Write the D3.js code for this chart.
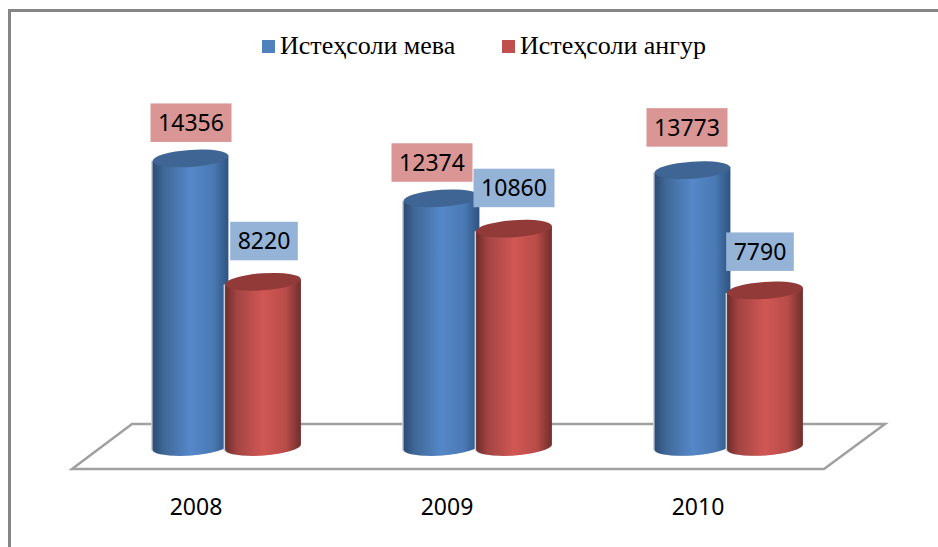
<!DOCTYPE html>
<html>
<head>
<meta charset="utf-8">
<script src="https://cdn.jsdelivr.net/npm/d3@7"></script>
<style>
  html, body { margin: 0; padding: 0; background: #fff; }
  svg { display: block; }
</style>
</head>
<body>
<script>
// Dati
const years = ["2008", "2009", "2010"];
const fruit = [14356, 12374, 13773];
const grape = [8220, 10860, 7790];
const seriesNames = ["Истеҳсоли мева", "Истеҳсоли ангур"];

const width = 938, height = 547;
const svg = d3.select("body").append("svg").attr("width", width).attr("height", height);

// Scale
const x = d3.scaleBand().domain(years).range([101.5, 854.5]);
const inner = d3.scaleBand().domain(d3.range(2)).range([53.5, 197.5]);
const y = d3.scaleLinear().domain([0, 15000]).range([447, 145.5]);

const rx = 38, ry = 8.5, tilt = -4;
const dx = rx * Math.cos(tilt * Math.PI / 180);
const dy = rx * Math.sin(tilt * Math.PI / 180);

// Gradienti dei cilindri
const defs = svg.append("defs");
const gradients = [
  { id: "gradFruit", stops: ["#2b4b73", "#406898", "#5588c9", "#4a79b3", "#2e5380"] },
  { id: "gradGrape", stops: ["#6d2b2a", "#a24442", "#d15754", "#b84c49", "#6f2d2c"] }
];
gradients.forEach(g => {
  const lg = defs.append("linearGradient").attr("id", g.id);
  [0, 0.15, 0.5, 0.8, 1].forEach((o, i) => {
    lg.append("stop").attr("offset", o).attr("stop-color", g.stops[i]);
  });
});

// Cornice
svg.append("rect")
  .attr("x", 9.5).attr("y", 10.5)
  .attr("width", width + 20).attr("height", height + 20)
  .attr("fill", "#fff").attr("stroke", "#868686").attr("stroke-width", 3);

// Pavimento
svg.append("polygon")
  .attr("points", "72,469 824,469 885,424 132,424")
  .attr("fill", "#fff").attr("stroke", "#a0a0a0").attr("stroke-width", 2.5);

// Legenda
const legendX = [262, 502];
const legendColors = ["#4f81bd", "#c0504d"];
seriesNames.forEach((name, i) => {
  svg.append("rect")
    .attr("x", legendX[i]).attr("y", 40)
    .attr("width", 13).attr("height", 13)
    .attr("fill", legendColors[i]);
  svg.append("text")
    .attr("x", legendX[i] + 18).attr("y", 54)
    .attr("font-family", "Liberation Serif")
    .attr("font-size", 26)
    .attr("fill", "#000")
    .text(name);
});

// Cilindri
function side(cx, yTop) {
  const yBot = y(0);
  return `M${cx - dx},${yTop - dy}L${cx - dx},${yBot - dy}` +
    `A${rx},${ry} ${tilt} 0 0 ${cx + dx},${yBot + dy}` +
    `L${cx + dx},${yTop + dy}Z`;
}

[fruit, grape].forEach((values, s) => {
  const grad = gradients[s].id;
  const topColor = ["#3e6593", "#923a38"][s];
  const g = svg.append("g");
  values.forEach((v, i) => {
    const cx = x(years[i]) + inner(s) + inner.bandwidth() / 2 + [-0.5, 0][s];
    const yTop = y(v);
    g.append("path")
      .attr("d", side(cx, yTop))
      .attr("transform", "translate(-1.5,0)")
      .attr("fill", "#c9cfd6");
    g.append("path").attr("d", side(cx, yTop)).attr("fill", `url(#${grad})`);
    g.append("ellipse")
      .attr("rx", rx).attr("ry", ry)
      .attr("transform", `translate(${cx},${yTop}) rotate(${tilt})`)
      .attr("fill", topColor);
  });
});

// Etichette (spostate a mano come nell'originale)
const fruitOffset = [[0, -36], [-10, -36], [-6, -43]];
const grapeOffset = [[1, -41], [0, -41], [-5, -39]];
const labelFont = "Noto Sans";

function drawLabels(values, offsets, s, fill, boxW) {
  values.forEach((v, i) => {
    const cx = x(years[i]) + inner(s) + inner.bandwidth() / 2 + offsets[i][0];
    const cy = y(v) + offsets[i][1];
    const w = boxW(String(v).length);
    svg.append("rect")
      .attr("x", cx - w / 2).attr("y", cy - 19)
      .attr("width", w).attr("height", 38.5)
      .attr("fill", fill);
    svg.append("text")
      .attr("x", cx).attr("y", cy + 8.5)
      .attr("text-anchor", "middle")
      .attr("font-family", labelFont)
      .attr("font-size", 23)
      .attr("fill", "#000")
      .text(v);
  });
}
const boxWidth = n => n * 13.4 + 14;
drawLabels(fruit, fruitOffset, 0, "#d99694", boxWidth);
drawLabels(grape, grapeOffset, 1, "#95b3d7", boxWidth);

// Asse delle categorie
const axis = svg.append("g")
  .attr("transform", "translate(-31,499)")
  .call(d3.axisBottom(x).tickSize(0).tickPadding(0));
axis.select(".domain").remove();
axis.selectAll("text")
  .attr("font-family", labelFont)
  .attr("font-size", 23)
  .attr("fill", "#000");
</script>
</body>
</html>
